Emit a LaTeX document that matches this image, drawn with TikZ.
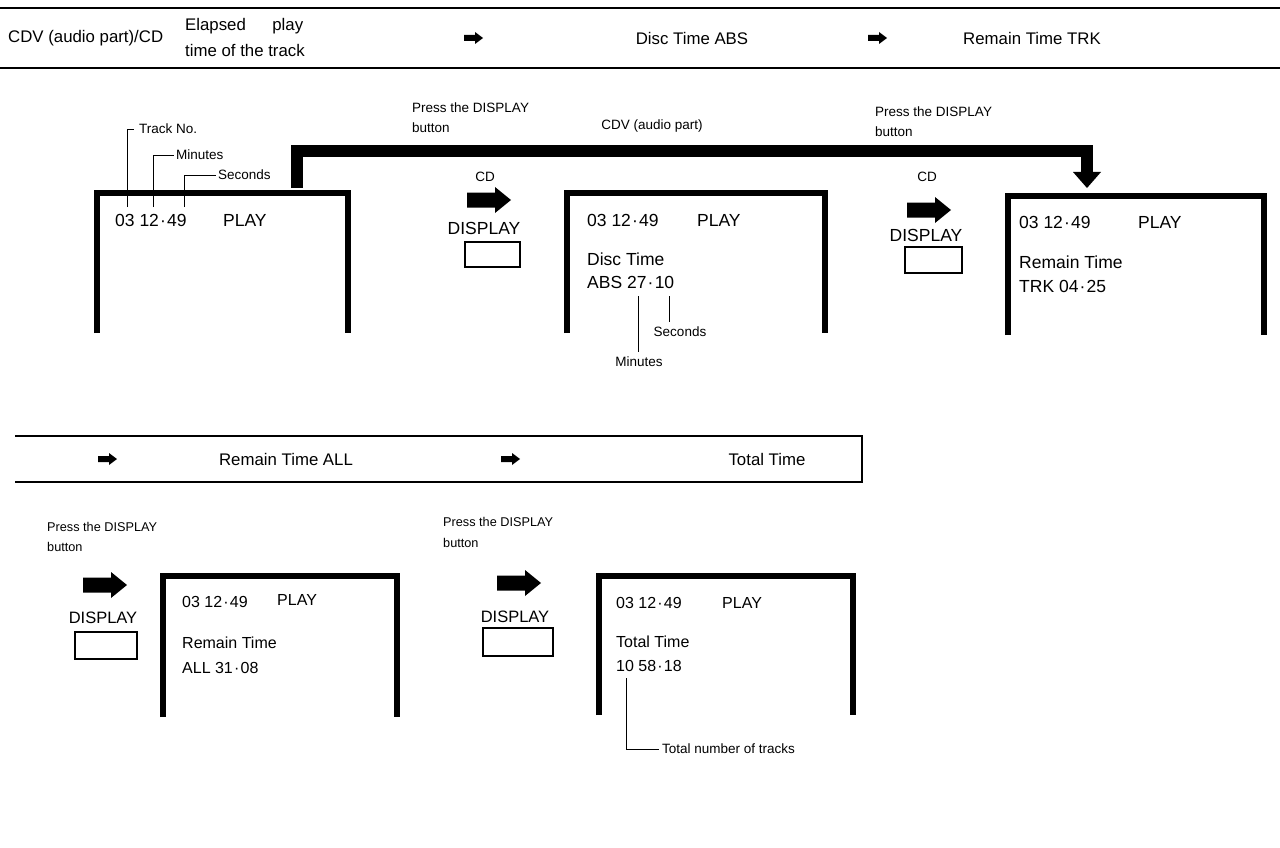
\documentclass[tikz,border=0pt]{standalone}
\usepackage{fontspec}
\setmainfont{Liberation Sans}
\newcommand{\mdot}{\kern1.2pt·\kern1.2pt}
\begin{document}
\begin{tikzpicture}[x=1pt,y=-1pt,
  hdr/.style={font=\fontsize{16.8}{20}\selectfont, inner sep=0},
  lbl/.style={font=\fontsize{13.5}{16}\selectfont, inner sep=0, anchor=west},
  lblb/.style={font=\fontsize{12.7}{15}\selectfont, inner sep=0, anchor=west},
  scr/.style={font=\fontsize{17.5}{20}\selectfont, inner sep=0, anchor=west},
  scrb/.style={font=\fontsize{16}{19}\selectfont, inner sep=0, anchor=west},
  disp/.style={font=\fontsize{17.5}{20}\selectfont, inner sep=0},
  dispb/.style={font=\fontsize{16.5}{19}\selectfont, inner sep=0},
  screen/.style={line width=6pt, line join=miter},
  rule/.style={line width=1.4pt},
  leader/.style={line width=0.8pt},
  conn/.style={line width=12pt, line join=miter},
  btn/.style={draw, line width=2.8pt, inner sep=0, minimum width=55pt, minimum height=25pt},
  btnb/.style={draw, line width=2.8pt, inner sep=0, minimum width=60pt, minimum height=26pt},
  bigarrow/.pic={\fill (0,-7.5) -- (28,-7.5) -- (28,-13) -- (44,0) -- (28,13) -- (28,7.5) -- (0,7.5) -- cycle;},
  smallarrow/.pic={\fill (-9,-3) -- (2,-3) -- (2,-6) -- (10,0) -- (2,6) -- (2,3) -- (-9,3) -- cycle;}
]
\useasboundingbox (0,0) rectangle (1280,848);

% ---------- top header ----------
\coordinate (h1l) at (0,8);   \coordinate (h1r) at (1280,8);
\coordinate (h2l) at (0,68);  \coordinate (h2r) at (1280,68);
\draw[rule] (h1l) -- (h1r);
\draw[rule] (h2l) -- (h2r);
\node[hdr, anchor=west] (hcdv) at (8,38) {CDV (audio part)/CD};
\node[hdr, anchor=west] (hel1) at (185,26) {\makebox[118pt][s]{Elapsed play}};
\node[hdr, anchor=west] (hel2) at (185,50) {time of the track};
\pic (ha1) at (473,38) {smallarrow};
\node[hdr] (habs) at (692,38) {Disc Time ABS};
\pic (ha2) at (877,38) {smallarrow};
\node[hdr] (htrk) at (1032,38) {Remain Time TRK};

% ---------- screen 1 ----------
\coordinate (s1a) at (97,333); \coordinate (s1b) at (348,193);
\draw[screen] (s1a) |- (s1b) -- (s1b |- s1a);
\node[scr] (s1t) at (115,220) {03 12\mdot 49};
\node[scr] (s1p) at (223,220) {PLAY};
\node[lbl] (ltn) at (139,129) {Track No.};
\node[lbl] (lmin) at (176,155) {Minutes};
\node[lbl] (lsec) at (218,175) {Seconds};
\coordinate (d1) at (127,207); \coordinate (d2) at (153,207); \coordinate (d3) at (184,207);
\draw[leader] (d1) |- ([xshift=-5pt]ltn.west);
\draw[leader] (d2) |- ([xshift=-2pt]lmin.west);
\draw[leader] (d3) |- ([xshift=-2pt]lsec.west);

% ---------- thick connector ----------
\coordinate (cs) at (297,188); \coordinate (cm) at (1087,151); \coordinate (ce) at (1087,172);
\draw[conn] (cs) |- (cm) -- (ce);
\fill (ce) ++(-14,0) -- ++(28,0) -- ++(-14,16) -- cycle;
\node[lbl] (p1a) at (412,108) {Press the DISPLAY};
\node[lbl] (p1b) at (412,128) {button};
\node[lbl, anchor=center] (cdvap) at (652,126) {CDV (audio part)};

% ---------- button 1 ----------
\node[lbl, anchor=center] (cd1) at (485,177) {CD};
\pic (ba1) at (467,200) {bigarrow};
\node[disp] (dl1) at (484,228) {DISPLAY};
\node[btn] (b1) at (492.5,254.5) {};

% ---------- screen 2 ----------
\coordinate (s2a) at (567,333); \coordinate (s2b) at (825,193);
\draw[screen] (s2a) |- (s2b) -- (s2b |- s2a);
\node[scr] (s2t) at (587,220) {03 12\mdot 49};
\node[scr] (s2p) at (697,220) {PLAY};
\node[scr] (s2l2) at (587,259) {Disc Time};
\node[scr] (s2l3) at (587,282) {ABS 27\mdot 10};
\node[lbl, anchor=center] (lmin2) at (639,362) {Minutes};
\node[lbl, anchor=center] (lsec2) at (680,332) {Seconds};
\coordinate (e1) at (638,296); \coordinate (e2) at (669,296);
\draw[leader] (e1) -- ([yshift=5pt]lmin2.north -| e1);
\draw[leader] (e2) -- ([yshift=5pt]lsec2.north -| e2);

% ---------- button 2 ----------
\node[lbl] (p2a) at (875,112) {Press the DISPLAY};
\node[lbl] (p2b) at (875,132) {button};
\node[lbl, anchor=center] (cd2) at (927,177) {CD};
\pic (ba2) at (907,210) {bigarrow};
\node[disp] (dl2) at (926,235) {DISPLAY};
\node[btn, minimum width=57pt, minimum height=26pt] (b2) at (933.5,260) {};

% ---------- screen 3 ----------
\coordinate (s3a) at (1008,335); \coordinate (s3b) at (1264,196);
\draw[screen] (s3a) |- (s3b) -- (s3b |- s3a);
\node[scr] (s3t) at (1019,222) {03 12\mdot 49};
\node[scr] (s3p) at (1138,222) {PLAY};
\node[scr] (s3l2) at (1019,262) {Remain Time};
\node[scr] (s3l3) at (1019,286) {TRK 04\mdot 25};

% ---------- bottom header ----------
\coordinate (g1l) at (15,436); \coordinate (g1r) at (862,436);
\coordinate (g2l) at (15,482); \coordinate (g2r) at (862,482);
\draw[rule] (g1l) -- (g1r) -- (g2r) -- (g2l);
\pic (ga1) at (107,459) {smallarrow};
\node[hdr] (gall) at (286,459) {Remain Time ALL};
\pic (ga2) at (510,459) {smallarrow};
\node[hdr] (gtot) at (767,459) {Total Time};

% ---------- button 3 ----------
\node[lblb] (p3a) at (47,527) {Press the DISPLAY};
\node[lblb] (p3b) at (47,547) {button};
\pic (ba3) at (83,585) {bigarrow};
\node[dispb] (dl3) at (103,618) {DISPLAY};
\node[btnb, minimum width=62pt, minimum height=27pt] (b3) at (106,645.5) {};

% ---------- screen 4 ----------
\coordinate (s4a) at (163,717); \coordinate (s4b) at (397,576);
\draw[screen] (s4a) |- (s4b) -- (s4b |- s4a);
\node[scrb] (s4t) at (182,602) {03 12\mdot 49};
\node[scrb] (s4p) at (277,600) {PLAY};
\node[scrb] (s4l2) at (182,643) {Remain Time};
\node[scrb] (s4l3) at (182,668) {ALL 31\mdot 08};

% ---------- button 4 ----------
\node[lblb] (p4a) at (443,522) {Press the DISPLAY};
\node[lblb] (p4b) at (443,543) {button};
\pic (ba4) at (497,583) {bigarrow};
\node[dispb] (dl4) at (515,617) {DISPLAY};
\node[btnb, minimum width=70pt, minimum height=28pt] (b4) at (518,642) {};

% ---------- screen 5 ----------
\coordinate (s5a) at (599,715); \coordinate (s5b) at (853,576);
\draw[screen] (s5a) |- (s5b) -- (s5b |- s5a);
\node[scrb] (s5t) at (616,603) {03 12\mdot 49};
\node[scrb] (s5p) at (722,603) {PLAY};
\node[scrb] (s5l2) at (616,642) {Total Time};
\node[scrb] (s5l3) at (616,666) {10 58\mdot 18};
\node[lbl] (ltot) at (662,749) {Total number of tracks};
\coordinate (f1) at (626,678);
\draw[leader] (f1) |- ([xshift=-3pt]ltot.west);
\end{tikzpicture}
\end{document}
